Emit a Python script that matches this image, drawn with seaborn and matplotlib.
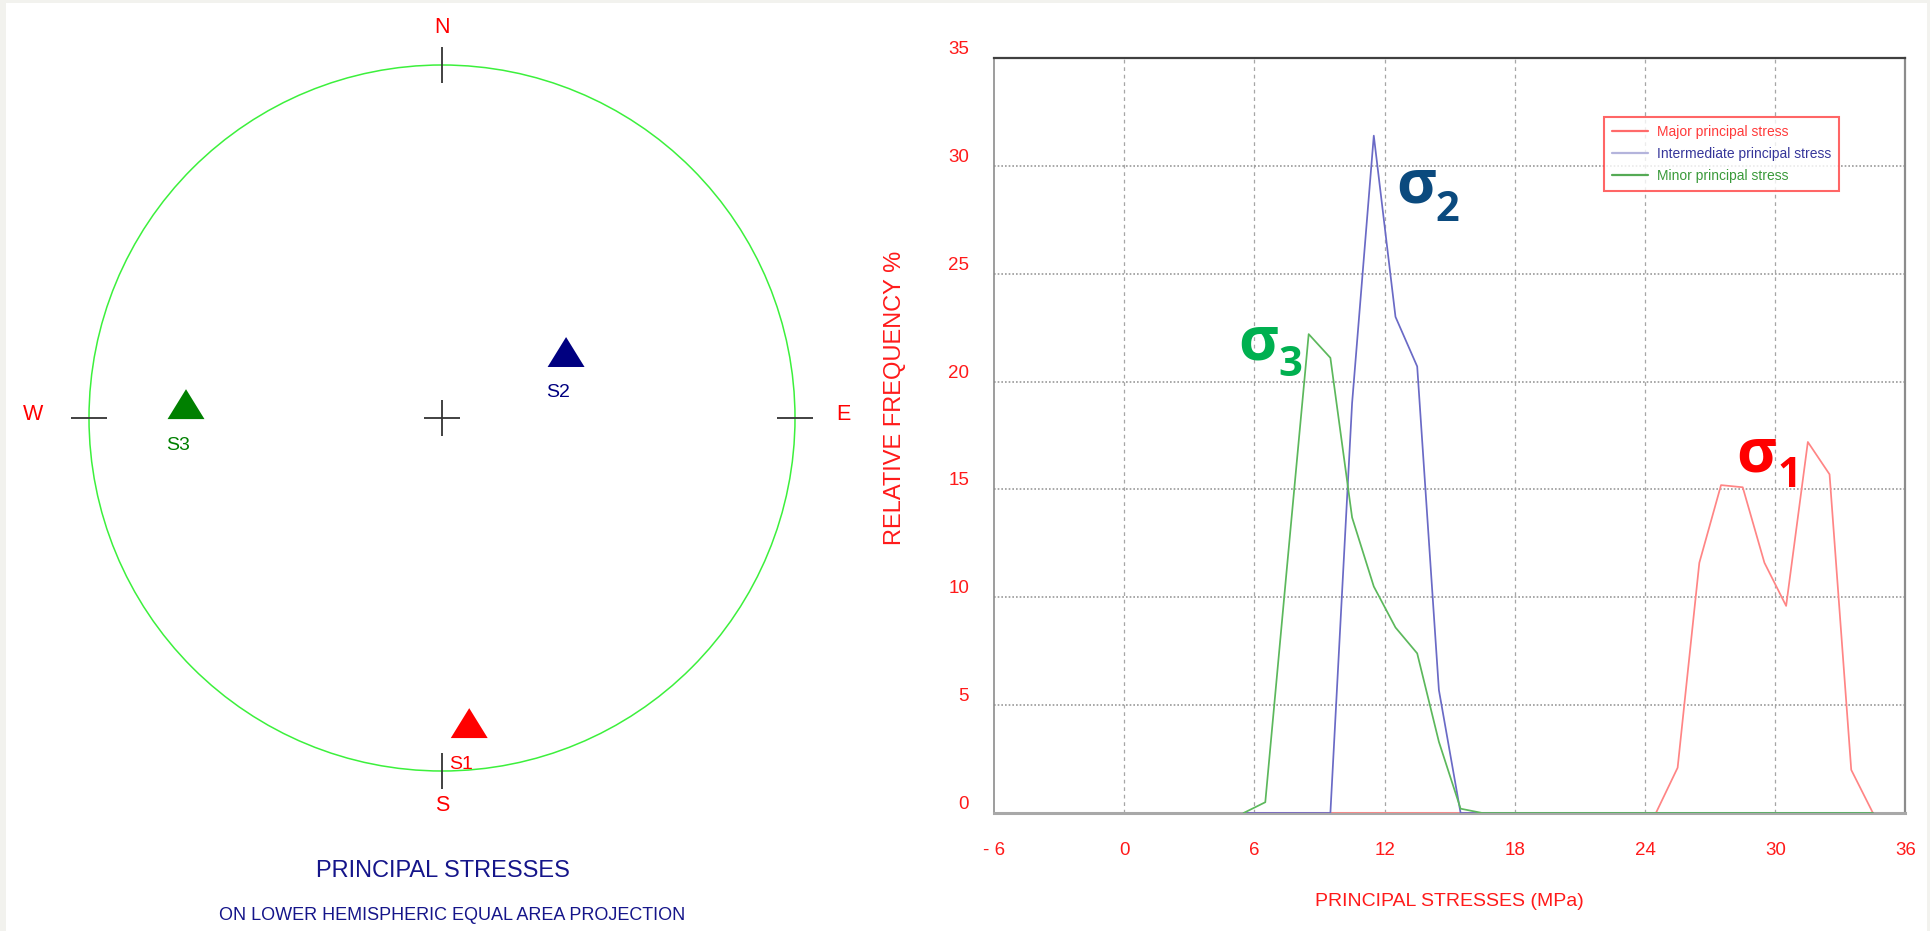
import numpy as np
import pandas as pd
import matplotlib
matplotlib.use("Agg")
import matplotlib.pyplot as plt
from matplotlib import font_manager as fm
from matplotlib.lines import Line2D
from matplotlib.patches import Circle, Rectangle
from matplotlib.path import Path
import seaborn as sns

# ---------------------------------------------------------------- data
# principal stress axes (lower hemisphere): trend / plunge in degrees
axis_names = ["S1", "S2", "S3"]
axis_trend = [174.9, 62.0, 273.1]
axis_plunge = [14.3, 57.3, 28.2]
axis_colors = ["#ff0000", "#000080", "#008000"]

# relative frequency of principal stress magnitudes (bin centres, MPa)
stress_mpa = [5.5, 6.5, 7.5, 8.5, 9.5, 10.5, 11.5, 12.5, 13.5, 14.5,
              15.5, 16.5, 17.5, 18.5, 19.5, 20.5, 21.5, 22.5, 23.5, 24.5,
              25.5, 26.5, 27.5, 28.5, 29.5, 30.5, 31.5, 32.5, 33.5, 34.5]
major_freq = [0, 0, 0, 0, 0, 0, 0, 0, 0, 0,
              0, 0, 0, 0, 0, 0, 0, 0, 0, 0,
              2.1, 11.6, 15.2, 15.1, 11.6, 9.6, 17.2, 15.7, 2.0, 0]
intermediate_freq = [0, 0, 0, 0, 0, 19.0, 31.4, 23.0, 20.7, 5.7,
                     0, 0, 0, 0, 0, 0, 0, 0, 0, 0,
                     0, 0, 0, 0, 0, 0, 0, 0, 0, 0]
minor_freq = [0, 0.5, 11.4, 22.2, 21.1, 13.7, 10.5, 8.6, 7.4, 3.3,
              0.2, 0, 0, 0, 0, 0, 0, 0, 0, 0,
              0, 0, 0, 0, 0, 0, 0, 0, 0, 0]

series_names = ["Major principal stress", "Intermediate principal stress",
                "Minor principal stress"]
series_line = ["#ff8585", "#6a6ac6", "#5cb85c"]
legend_line = ["#ff6a6a", "#b4b4dc", "#55aa55"]
legend_text = ["#ff3a3a", "#36369a", "#3a9a3a"]

x_ticks = [-6, 0, 6, 12, 18, 24, 30, 36]
x_tick_labels = ["- 6", "0", "6", "12", "18", "24", "30", "36"]
y_ticks = [0, 5, 10, 15, 20, 25, 30, 35]
y_tick_labels = ["0", "5", "10", "15", "20", "25", "30", "35"]

sigma_labels = [("σ", "1", 28.2, 15.83, 30.1, 15.09, "#ff0000"),
                ("σ", "2", 12.53, 28.32, 14.33, 27.46, "#0b4a7e"),
                ("σ", "3", 5.25, 21.03, 7.09, 20.24, "#00b050")]

# ---------------------------------------------------------------- style
sns.set_theme(style="white")
plt.rcParams["font.family"] = ["Liberation Sans", "DejaVu Sans"]


def has_font(name):
    try:
        fm.findfont(fm.FontProperties(family=name), fallback_to_default=False)
        return True
    except ValueError:
        return False


narrow = has_font("Liberation Sans Narrow")
tick_family = ["Liberation Sans Narrow"] if narrow else ["Liberation Sans"]
tick_size = 16 if narrow else 13.5
xlab_size = 16.5 if narrow else 14

W, H = 1931, 931
fig = plt.figure(figsize=(W / 100, H / 100), dpi=100, facecolor="#f2f2ee")
fig.add_artist(Rectangle((6 / W, 0), (1927 - 6) / W, 1 - 3 / H,
                         transform=fig.transFigure, facecolor="white",
                         edgecolor="none", zorder=-5))

# ---------------------------------------------------------------- stereonet
R_PX = 353.0
CX, CY = 442.0, 418.0
axL = fig.add_axes([0, 0, 900 / W, 1])
axL.set_xlim((0 - CX) / R_PX, (900 - CX) / R_PX)
axL.set_ylim((CY - H) / R_PX, CY / R_PX)
axL.set_axis_off()

axL.add_patch(Circle((0, 0), 1.0, fill=False, edgecolor="#3cf03c", lw=1.1))
tk = 0.052
tick_kw = dict(color="#333333", lw=1.3, solid_capstyle="butt")
axL.plot([0, 0], [1 - tk, 1 + tk], **tick_kw)
axL.plot([0, 0], [-1 - tk, -1 + tk], **tick_kw)
axL.plot([-1 - tk, -1 + tk], [0, 0], **tick_kw)
axL.plot([1 - tk, 1 + tk], [0, 0], **tick_kw)
axL.plot([-tk, tk], [0, 0], **tick_kw)
axL.plot([0, 0], [-tk, tk], **tick_kw)

compass_kw = dict(color="#ff0000", fontsize=15.5, ha="center", va="center")
axL.text(0, 1.105, "N", **compass_kw)
axL.text(0, -1.099, "S", **compass_kw)
axL.text(-1.159, 0.011, "W", **compass_kw)
axL.text(1.136, 0.011, "E", **compass_kw)

# equal-area (Schmidt) lower hemisphere projection
tr = np.radians(axis_trend)
rr = np.sqrt(2.0) * np.sin(np.radians(90.0 - np.array(axis_plunge)) / 2.0)
poles = pd.DataFrame({"name": axis_names,
                      "x": rr * np.sin(tr), "y": rr * np.cos(tr)})

tri = Path([(0, 0.81), (-1, -0.81), (1, -0.81), (0, 0.81)])
sns.scatterplot(data=poles, x="x", y="y", hue="name", hue_order=axis_names,
                palette=dict(zip(axis_names, axis_colors)), marker=tri,
                s=26.6 ** 2, linewidth=0, legend=False, ax=axL, zorder=4)
for _, row in poles.iterrows():
    col = axis_colors[axis_names.index(row["name"])]
    axL.annotate(row["name"], (row["x"], row["y"]), xytext=(-5.8, -29.5),
                 textcoords="offset points", ha="center", va="center",
                 color=col, fontsize=14)
axL.set_xlabel("")
axL.set_ylabel("")

fig.text(443 / W, 1 - 871 / H, "PRINCIPAL STRESSES", color="#15158a",
         fontsize=17, ha="center", va="center")
fig.text(452 / W, 1 - 916 / H, "ON LOWER HEMISPHERIC EQUAL AREA PROJECTION",
         color="#15158a", fontsize=13, ha="center", va="center")

# ---------------------------------------------------------------- frequency plot
axR = fig.add_axes([994 / W, 1 - 813 / H, (1905.5 - 994) / W, (813 - 58) / H])
freq = pd.DataFrame({
    "stress": stress_mpa * 3,
    "freq": major_freq + intermediate_freq + minor_freq,
    "series": [series_names[0]] * len(stress_mpa)
    + [series_names[1]] * len(stress_mpa)
    + [series_names[2]] * len(stress_mpa),
})
sns.lineplot(data=freq, x="stress", y="freq", hue="series",
             hue_order=series_names, palette=dict(zip(series_names, series_line)),
             linewidth=1.25, legend=False, ax=axR, zorder=3, sort=False,
             errorbar=None)

axR.set_xlim(-6, 36)
axR.set_ylim(0, 35)
axR.set_xticks(x_ticks)
axR.set_yticks(y_ticks)
axR.set_xticklabels(x_tick_labels, family=tick_family, fontsize=tick_size,
                    color="#ff1a1a")
axR.set_yticklabels(y_tick_labels, family=tick_family, fontsize=tick_size,
                    color="#ff1a1a")
for lab in axR.get_yticklabels():
    lab.set_va("bottom")
axR.tick_params(axis="x", length=0, pad=21)
axR.tick_params(axis="y", length=0, pad=18)
axR.set_xlabel("")
axR.set_ylabel("")

for xv in x_ticks[1:-1]:
    axR.axvline(xv, color="#a6a6a6", lw=0.9, ls=(0, (3, 3)), zorder=1)
for yv in y_ticks[1:-1]:
    axR.axhline(yv, color="#9a9a9a", lw=1.2, ls=(0, (1, 1.2)), zorder=1)

axR.spines["left"].set_color("#8c8c8c")
axR.spines["left"].set_linewidth(1.2)
axR.spines["right"].set_color("#8c8c8c")
axR.spines["right"].set_linewidth(1.6)
axR.spines["top"].set_color("#404040")
axR.spines["top"].set_linewidth(1.6)
axR.spines["bottom"].set_color("#a8a8a8")
axR.spines["bottom"].set_linewidth(2.2)

fig.text(1449 / W, 1 - 902 / H, "PRINCIPAL STRESSES (MPa)", color="#ff1a1a",
         family=tick_family, fontsize=xlab_size, ha="center", va="center")
fig.text(895 / W, 1 - 398 / H, "RELATIVE FREQUENCY %", color="#ff1a1a",
         fontsize=17, rotation=90, ha="center", va="center")

handles = [Line2D([], [], color=c, lw=1.6) for c in legend_line]
leg = fig.legend(handles, series_names, loc="upper left",
                 bbox_to_anchor=(1604 / W, 1 - 117 / H), borderaxespad=0,
                 frameon=True, fancybox=False, fontsize=10,
                 handlelength=2.6, handletextpad=0.65, labelspacing=0.6,
                 borderpad=0.55)
leg.get_frame().set_edgecolor("#ff4040")
leg.get_frame().set_linewidth(1.5)
for txt, col in zip(leg.get_texts(), legend_text):
    txt.set_color(col)

for big, sub, bx, by, sx, sy, col in sigma_labels:
    axR.text(bx, by, big, family=["Open Sans", "DejaVu Sans"],
             weight="bold", fontsize=44, color=col, ha="left",
             va="baseline", zorder=5)
    axR.text(sx, sy, sub, family=["Open Sans", "DejaVu Sans"],
             weight="bold", fontsize=30, color=col, ha="left",
             va="baseline", zorder=5)

fig.savefig("out.png", dpi=100, facecolor=fig.get_facecolor())
